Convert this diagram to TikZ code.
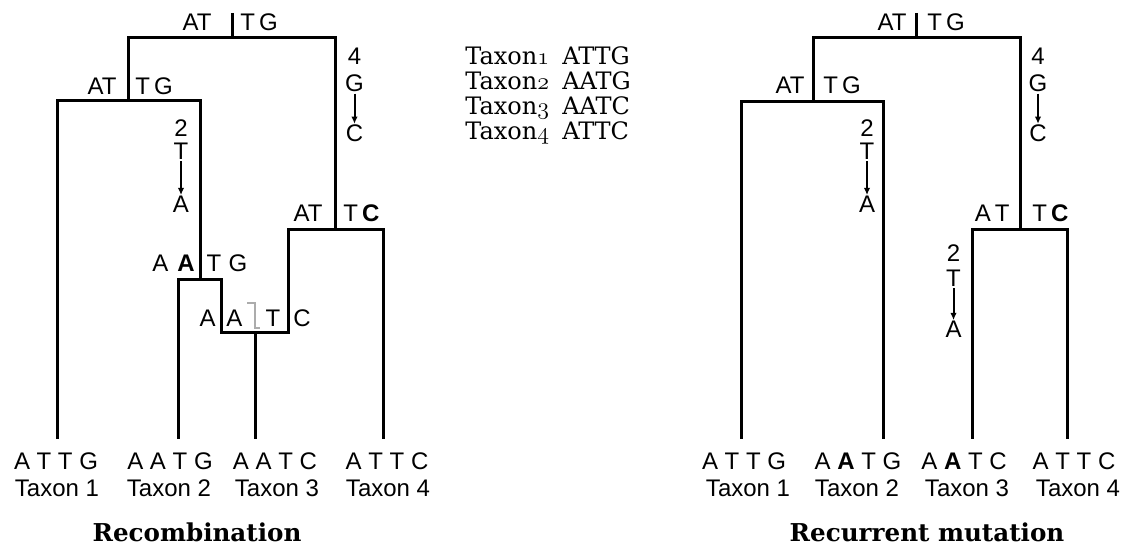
\documentclass[tikz,border=0pt]{standalone}
\usepackage{fontspec}
\newfontfamily\sansfont{Liberation Sans}
\newfontfamily\titlefont{DejaVu Serif}
\newcommand\osfdigit[1]{{\usefont{OML}{cmm}{m}{it}#1}}
\usetikzlibrary{arrows.meta}

\begin{document}
\begin{tikzpicture}[
  x=0.5pt, y=-0.5pt,
  branch/.style={line width=1.5pt},
  seq/.style={font=\sansfont\fontsize{12}{14}\selectfont, inner sep=0pt},
  site/.style={seq, anchor=base, inner sep=0.5pt},
  mutarrow/.style={-{Latex[length=3.6pt,width=3.2pt]}, line width=1pt},
  listtext/.style={anchor=base west, inner sep=0pt, font=\titlefont\fontsize{12}{14}\selectfont},
  caption/.style={anchor=base, inner sep=0pt, font=\titlefont\bfseries\fontsize{12.3}{14}\selectfont},
]
  \useasboundingbox (0,0) rectangle (1128,544);

  % Recombination tree
  \coordinate (topL) at (232,13);
  \coordinate (rootL) at (232,38);
  \coordinate (n12L) at (128,101);
  \coordinate (n2L) at (200,280);
  \coordinate (recL) at (221,333);
  \coordinate (recR) at (288,333);
  \coordinate (rec) at (255,333);
  \coordinate (n34L) at (335,230);
  \coordinate (t1L) at (57,439);
  \coordinate (t2L) at (178,439);
  \coordinate (t3L) at (255,439);
  \coordinate (t4L) at (383,439);

  \draw[branch] (topL) -- (rootL);
  \draw[branch] (n12L) |- (rootL) -| (n34L);
  \draw[branch] (t1L) |- (n12L) -| (n2L);
  \draw[branch] (t2L) |- (n2L) -| (recL) -- (recR) |- (n34L) -| (t4L);
  \draw[branch] (t3L) -- (rec);

  % ancestral sequences
  \node[seq, anchor=base east] (rootLa) at (212,31) {AT};
  \node[seq, anchor=base west] (rootLb) at (240,31) {T\,G};
  \node[seq, anchor=base east] (n12La) at (117,95) {AT};
  \node[seq, anchor=base west] (n12Lb) at (135,95) {T\,G};
  \node[seq, anchor=base east] (n34La) at (323,222) {AT};
  \node[seq, anchor=base west] (n34Lb) at (343,222) {T\,{\bfseries C}};
  \node[seq, anchor=base] (n2La) at (160.5,272) {A};
  \node[seq, anchor=base] (n2Lb) at (186,272) {\bfseries A};
  \node[seq, anchor=base] (n2Lc) at (214,272) {T};
  \node[seq, anchor=base] (n2Ld) at (238,272) {G};
  \node[seq, anchor=base] (recLa) at (207.5,327) {A};
  \node[seq, anchor=base] (recLb) at (234.5,327) {A};
  \node[seq, anchor=base] (recLc) at (273,327) {T};
  \node[seq, anchor=base] (recLd) at (302,327) {C};
  \draw[gray!65, line width=1.2pt] (247,303) -- (255,303) -- (255,328) -- (260,328);

  % mutations
  \node[site] (pos4L) at (354.5,65) {4};
  \node[site] (from4L) at (354.5,92) {G};
  \node[site] (to4L) at (354.5,142) {C};
  \draw[mutarrow] (from4L) -- (to4L);
  \node[site] (pos2L) at (181,137) {2};
  \node[site] (from2L) at (181,160) {T};
  \node[site] (to2L) at (181,213) {A};
  \draw[mutarrow] (from2L) -- (to2L);

  % taxa
  \node[seq, anchor=base] (s1L) at (56,469) {A T T G};
  \node[seq, anchor=base] (s2L) at (170,469) {A A T G};
  \node[seq, anchor=base] (s3L) at (275,469) {A A T C};
  \node[seq, anchor=base] (s4L) at (387,469) {A T T C};
  \node[seq, anchor=base] (x1L) at (57,496) {Taxon 1};
  \node[seq, anchor=base] (x2L) at (169,496) {Taxon 2};
  \node[seq, anchor=base] (x3L) at (277,496) {Taxon 3};
  \node[seq, anchor=base] (x4L) at (388,496) {Taxon 4};
  \node[caption] (capL) at (197,541) {Recombination};

  % alignment
  \foreach \i/\s in {1/ATTG, 2/AATG, 3/AATC, 4/ATTC}
    \node[listtext] (list\i) at (465,40+25*\i) {Taxon\osfdigit{\i}\hspace{0.55em}\s};

  % Recurrent mutation tree
  \coordinate (topR) at (916,13);
  \coordinate (rootR) at (916,38);
  \coordinate (n12R) at (813,102);
  \coordinate (n34R) at (1020,230);
  \coordinate (t1R) at (741,439);
  \coordinate (t2R) at (883,439);
  \coordinate (t3R) at (972,439);
  \coordinate (t4R) at (1067,439);

  \draw[branch] (topR) -- (rootR);
  \draw[branch] (n12R) |- (rootR) -| (n34R);
  \draw[branch] (t1R) |- (n12R) -| (t2R);
  \draw[branch] (t3R) |- (n34R) -| (t4R);

  \node[seq, anchor=base east] (rootRa) at (907,31) {AT};
  \node[seq, anchor=base west] (rootRb) at (927,31) {T\,G};
  \node[seq, anchor=base east] (n12Ra) at (805,94) {AT};
  \node[seq, anchor=base west] (n12Rb) at (823,94) {T\,G};
  \node[seq, anchor=base east] (n34Ra) at (1010,222) {A\,T};
  \node[seq, anchor=base west] (n34Rb) at (1032,222) {T\,{\bfseries C}};

  \node[site] (pos4R) at (1038,65) {4};
  \node[site] (from4R) at (1038,92) {G};
  \node[site] (to4R) at (1038,142) {C};
  \draw[mutarrow] (from4R) -- (to4R);
  \node[site] (pos2R) at (867,137) {2};
  \node[site] (from2R) at (867,160) {T};
  \node[site] (to2R) at (867,213) {A};
  \draw[mutarrow] (from2R) -- (to2R);
  \node[site] (pos2Rb) at (953.5,262) {2};
  \node[site] (from2Rb) at (953.5,287) {T};
  \node[site] (to2Rb) at (953.5,338) {A};
  \draw[mutarrow] (from2Rb) -- (to2Rb);

  \node[seq, anchor=base] (s1R) at (744,469) {A T T G};
  \node[seq, anchor=base] (s2R) at (858,469) {A {\bfseries A} T G};
  \node[seq, anchor=base] (s3R) at (964,469) {A {\bfseries A} T C};
  \node[seq, anchor=base] (s4R) at (1074,469) {A T T C};
  \node[seq, anchor=base] (x1R) at (748,496) {Taxon 1};
  \node[seq, anchor=base] (x2R) at (857,496) {Taxon 2};
  \node[seq, anchor=base] (x3R) at (967,496) {Taxon 3};
  \node[seq, anchor=base] (x4R) at (1078,496) {Taxon 4};
  \node[caption] (capR) at (927,541) {Recurrent mutation};
\end{tikzpicture}
\end{document}
